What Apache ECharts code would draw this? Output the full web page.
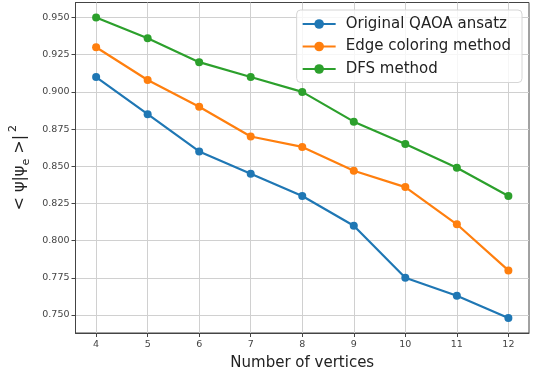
<!DOCTYPE html>
<html>
<head>
<meta charset="utf-8">
<script src="https://cdn.jsdelivr.net/npm/echarts@6/dist/echarts.min.js"></script>
<style>html,body{margin:0;padding:0;background:#fff}#c{width:536px;height:374px}</style>
</head>
<body>
<div id="c"></div>
<script>
const vertices = [4, 5, 6, 7, 8, 9, 10, 11, 12];
const originalQAOA = [0.910, 0.885, 0.860, 0.845, 0.830, 0.810, 0.775, 0.763, 0.748];
const edgeColoring = [0.930, 0.908, 0.890, 0.870, 0.863, 0.847, 0.836, 0.811, 0.780];
const dfsMethod = [0.950, 0.936, 0.920, 0.910, 0.900, 0.880, 0.865, 0.849, 0.830];
const xTicks = [4, 5, 6, 7, 8, 9, 10, 11, 12];
const yTicks = [0.750, 0.775, 0.800, 0.825, 0.850, 0.875, 0.900, 0.925, 0.950];
const seriesNames = ['Original QAOA ansatz', 'Edge coloring method', 'DFS method'];
const colors = ['#1f77b4', '#ff7f0e', '#2ca02c'];

const pairs = arr => vertices.map((v, i) => [v, arr[i]]);
const font = 'DejaVu Sans';
const chart = echarts.init(document.getElementById('c'), null, {renderer: 'canvas'});
const mk = (name, data, color) => ({
  name, type: 'line', data: pairs(data), color,
  symbol: 'circle', symbolSize: 8, showSymbol: true,
  lineStyle: {width: 2.2, color}, itemStyle: {color},
  animation: false
});
chart.setOption({
  animation: false,
  backgroundColor: '#fff',
  grid: {left: 75.5, right: 7, top: 2.5, bottom: 41, show: true, borderColor: '#444', borderWidth: 1,
    containLabel: false, outerBoundsMode: 'none'},
  legend: {
    orient: 'vertical', right: 14, top: 10,
    data: seriesNames,
    itemWidth: 33, itemHeight: 12, itemGap: 7.5,
    padding: [6.5, 11, 6, 5],
    borderColor: '#d6d6d6', borderWidth: 1, borderRadius: 4,
    backgroundColor: 'rgba(255,255,255,0.8)',
    textStyle: {fontFamily: font, fontSize: 15, color: '#222', padding: [0, 0, 0, 5]}
  },
  xAxis: {
    type: 'value', min: 3.6, max: 12.4,
    name: 'Number of vertices', nameLocation: 'middle', nameGap: 23,
    nameTextStyle: {fontFamily: font, fontSize: 15, color: '#222'},
    axisLine: {show: true, lineStyle: {color: '#444'}},
    axisTick: {show: true, length: 4, customValues: xTicks, lineStyle: {color: '#444'}},
    axisLabel: {customValues: xTicks, fontFamily: font, fontSize: 9.5, color: '#444', margin: 7},
    splitLine: {show: true, lineStyle: {color: '#d0d0d0', width: 1}}
  },
  yAxis: {
    type: 'value', min: 0.7379, max: 0.9601,
    name: '{t|< ψ|ψ}{s|e}{t| >|}{p|2}', nameLocation: 'middle', nameRotate: 90, nameGap: 42,
    nameTextStyle: {
      fontFamily: font, color: '#222',
      rich: {
        t: {fontFamily: font, fontSize: 16, color: '#222', lineHeight: 24, verticalAlign: 'middle'},
        s: {fontFamily: font, fontSize: 11, color: '#222', lineHeight: 24, verticalAlign: 'bottom'},
        p: {fontFamily: font, fontSize: 11, color: '#222', lineHeight: 24, verticalAlign: 'top', padding: [0, 0, 0, 3]}
      }
    },
    axisLine: {show: true, lineStyle: {color: '#444'}},
    axisTick: {show: true, length: 4, customValues: yTicks, lineStyle: {color: '#444'}},
    axisLabel: {customValues: yTicks, fontFamily: font, fontSize: 9.5, color: '#444', margin: 6,
      formatter: v => v.toFixed(3)},
    splitLine: {show: true, lineStyle: {color: '#d0d0d0', width: 1}}
  },
  series: [
    mk(seriesNames[0], originalQAOA, colors[0]),
    mk(seriesNames[1], edgeColoring, colors[1]),
    mk(seriesNames[2], dfsMethod, colors[2])
  ]
});
</script>
</body>
</html>
